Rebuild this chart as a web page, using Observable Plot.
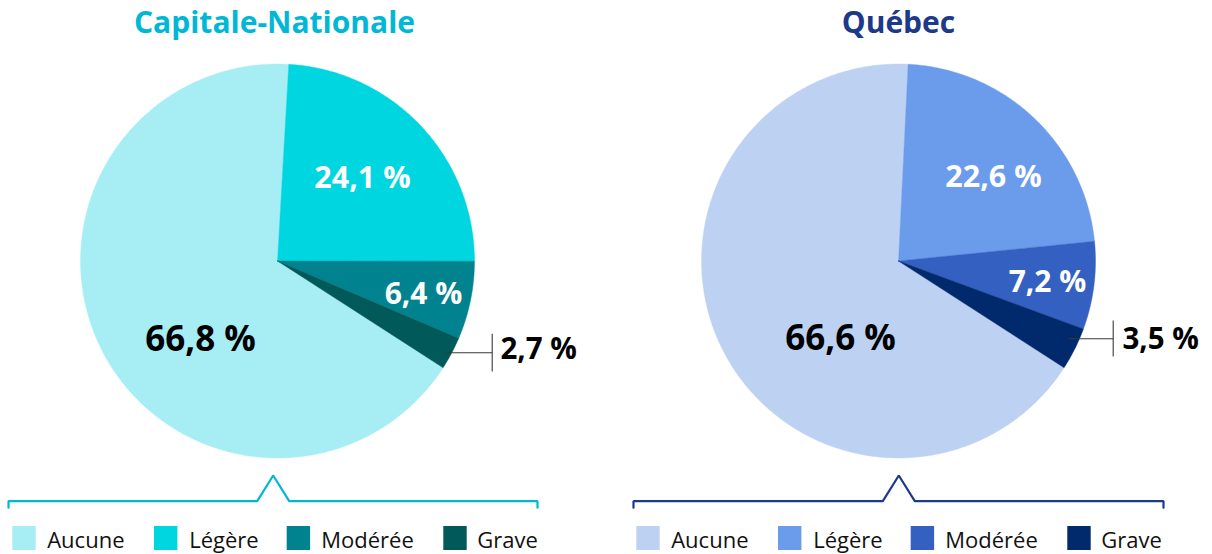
<!DOCTYPE html>
<html>
<head>
<meta charset="utf-8">
<script src="https://cdn.jsdelivr.net/npm/d3@7"></script>
<script src="https://cdn.jsdelivr.net/npm/@observablehq/plot@0.6"></script>
<style>
  html, body { margin: 0; padding: 0; background: #fff; }
  #chart svg { display: block; }
</style>
</head>
<body>
<div id="chart"></div>
<script>
// ---- Data ----
const categories = ["Aucune", "Légère", "Modérée", "Grave"];
const regions = ["Capitale-Nationale", "Québec"];
const capitaleValues = [66.8, 24.1, 6.4, 2.7];
const quebecValues = [66.6, 22.6, 7.2, 3.5];

// ---- Styles ----
const capitaleColors = ["#a6eef4", "#00d6e0", "#00838f", "#01595a"];
const quebecColors = ["#bdd1f3", "#6b9cec", "#3461c1", "#002a6c"];
const titleColors = ["#00b8d6", "#1d3a8a"];
const labelColors = ["#000", "#fff", "#fff", "#000"];

// ---- Layout (pixels) ----
const W = 1212, H = 554;
const panelOffset = 624;
const pieCenters = [[277, 260.5], [898, 260.5]];
const pieRadius = 197;
const startDeg = 122.8;
const titleX = [274, 898], titleY = 32;
const labelPos = [
  [[200, 350, 35, "middle"], [362, 187, 30.5, "middle"], [423, 303, 30, "middle"], [500, 358.5, 29.5, "start"]],
  [[840, 349, 35, "middle"], [993, 186, 30.5, "middle"], [1047, 291.5, 30, "middle"], [1122, 348.5, 29.5, "start"]]
];
const callouts = [
  {y: 352.3, x1: 446, x2: 491.7, t1: 333.3, t2: 371},
  {y: 338.3, x1: 1068.3, x2: 1112.7, t1: 320, t2: 356}
];
const bracketX = [[8, 537], [633, 1163]];
const bracketPeak = [272.7, 898.3];
const bracketY = 500.7, bracketTick = 6.5, peakHalf = 16, peakH = 25.7;
const swatchX = [12.3, 154, 286.7, 443.3];
const legendTextX = [46.7, 188.7, 320.7, 476.7];
const swatchY1 = 526, swatchY2 = 550, legendBaseline = 547.5;

const FONT = "'Open Sans', 'Noto Sans', sans-serif";

// ---- Build pie slice polygons from the data ----
const valueSets = [capitaleValues, quebecValues];
const colorSets = [capitaleColors, quebecColors];
const slicePts = [];
valueSets.forEach((vals, p) => {
  const total = d3.sum(vals);
  const [cx, cy] = pieCenters[p];
  let a0 = startDeg;
  vals.forEach((v, i) => {
    const span = v / total * 360;
    const a1 = a0 + span;
    const key = regions[p] + "|" + categories[i];
    const color = colorSets[p][i];
    slicePts.push({key, color, x: cx, y: cy});
    const n = Math.max(2, Math.ceil(span / 0.5));
    for (let k = 0; k <= n; k++) {
      const a = (a0 + span * k / n) * Math.PI / 180;
      slicePts.push({key, color, x: cx + pieRadius * Math.sin(a), y: cy - pieRadius * Math.cos(a)});
    }
    slicePts.push({key, color, x: cx, y: cy});
    a0 = a1;
  });
});

// ---- Labels ----
const fmt = v => v.toFixed(1).replace(".", ",") + " %";
const labels = [];
valueSets.forEach((vals, p) => {
  vals.forEach((v, i) => {
    const [x, y, fs, anchor] = labelPos[p][i];
    labels.push({x, y, fs, anchor, text: fmt(v), fill: labelColors[i]});
  });
});

// ---- Callout lines ----
const calloutSegs = [];
callouts.forEach((c, p) => {
  calloutSegs.push({x1: c.x1, y1: c.y, x2: c.x2, y2: c.y});
  calloutSegs.push({x1: c.x2, y1: c.t1, x2: c.x2, y2: c.t2});
});

// ---- Brackets ----
const bracketPts = [];
bracketX.forEach(([a, b], p) => {
  const m = bracketPeak[p];
  [[a, bracketY + bracketTick], [a, bracketY], [m - peakHalf, bracketY], [m, bracketY - peakH],
   [m + peakHalf, bracketY], [b, bracketY], [b, bracketY + bracketTick]]
    .forEach(([x, y]) => bracketPts.push({p, x, y, color: titleColors[p]}));
});

// ---- Legend ----
const legendItems = [];
[0, 1].forEach(p => {
  categories.forEach((c, i) => {
    legendItems.push({
      x1: swatchX[i] + p * panelOffset, x2: swatchX[i] + 23.4 + p * panelOffset,
      tx: legendTextX[i] + p * panelOffset, label: c, color: colorSets[p][i]
    });
  });
});

const titles = regions.map((r, p) => ({x: titleX[p], y: titleY, text: r, color: titleColors[p]}));

const chart = Plot.plot({
  width: W, height: H,
  margin: 0,
  x: {domain: [0, W], range: [0, W], axis: null},
  y: {domain: [0, H], range: [0, H], axis: null},
  color: {type: "identity"},
  style: {background: "#fff", fontFamily: FONT},
  marks: [
    Plot.line(slicePts, {x: "x", y: "y", z: "key", fill: "color", stroke: "color", strokeWidth: 0.4, curve: "linear"}),
    Plot.link(calloutSegs, {x1: "x1", y1: "y1", x2: "x2", y2: "y2", stroke: "#3a3a3a", strokeWidth: 1.1}),
    ...labels.map(l => Plot.text([l], {
      x: "x", y: "y", text: "text", fill: "fill", fontSize: l.fs, fontWeight: 700,
      textAnchor: l.anchor, lineAnchor: "bottom", fontFamily: FONT
    })),
    Plot.text(titles, {x: "x", y: "y", text: "text", fill: "color", fontSize: 30, fontWeight: 700,
      textAnchor: "middle", lineAnchor: "bottom", fontFamily: FONT}),
    Plot.line(bracketPts, {x: "x", y: "y", z: "p", stroke: "color", strokeWidth: 2.2, strokeLinejoin: "miter"}),
    Plot.rect(legendItems, {x1: "x1", x2: "x2", y1: swatchY1, y2: swatchY2, fill: "color"}),
    Plot.text(legendItems, {x: "tx", y: legendBaseline, text: "label", fill: "#111", fontSize: 22,
      textAnchor: "start", lineAnchor: "bottom", fontFamily: FONT})
  ]
});
document.getElementById("chart").appendChild(chart);
</script>
</body>
</html>
